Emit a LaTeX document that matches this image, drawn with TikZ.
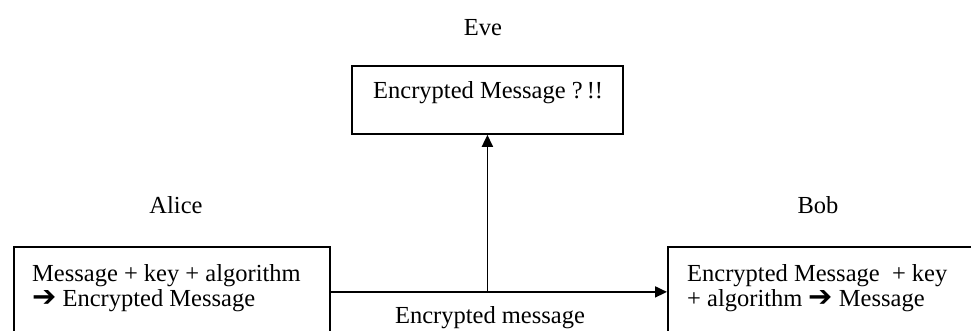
\documentclass[tikz,border=0pt]{standalone}
\usepackage{fontspec}
\setmainfont{Liberation Serif}
\newfontfamily\dvsans{DejaVu Sans}
\usetikzlibrary{arrows.meta}
\newcommand{\harrow}{{\dvsans\fontsize{29}{30}\selectfont ➔}}
\tikzset{
  box/.style={draw, line width=1.8pt, rectangle, inner sep=0pt, anchor=north west},
  txt/.style={anchor=base west, inner sep=0pt, font=\fontsize{24.5}{29}\selectfont},
  ctxt/.style={anchor=base, inner sep=0pt, font=\fontsize{24.5}{29}\selectfont},
  conn/.style={line width=1.8pt, -{Triangle[length=12pt,width=11pt]}}
}
\begin{document}
\begin{tikzpicture}[x=1pt,y=-1pt]
\useasboundingbox (0,0) rectangle (971,330);
\clip (0,0) rectangle (971,330);
% boxes
\node[box, minimum width=271pt, minimum height=68pt] (evebox) at (351,65) {};
\node[box, minimum width=316pt, minimum height=90pt] (alicebox) at (13,246) {};
\node[box, minimum width=340pt, minimum height=90pt] (bobbox) at (667,246) {};
% titles
\node[ctxt] (evelabel) at (483,35) {Eve};
\node[ctxt] (alicelabel) at (176,213) {Alice};
\node[ctxt] (boblabel) at (818,213) {Bob};
% box texts
\node[txt] (evetext) at (373,98) {Encrypted Message ?\,!!};
\node[txt] (alicetexta) at (32,281) {Message + key + algorithm};
\node[txt] (alicetextb) at (32,306) {\harrow\ Encrypted Message};
\node[txt] (bobtexta) at (687,281) {Encrypted Message\ \ + key};
\node[txt] (bobtextb) at (687,306) {+ algorithm \harrow\ Message};
% connectors
\coordinate (j) at (evebox.south |- alicebox.east);
\draw[conn] (alicebox.east) -- (bobbox.west);
\draw[conn] (j) -- (evebox.south);
\node[ctxt] (msglabel) at (490,323) {Encrypted message};
\end{tikzpicture}
\end{document}
